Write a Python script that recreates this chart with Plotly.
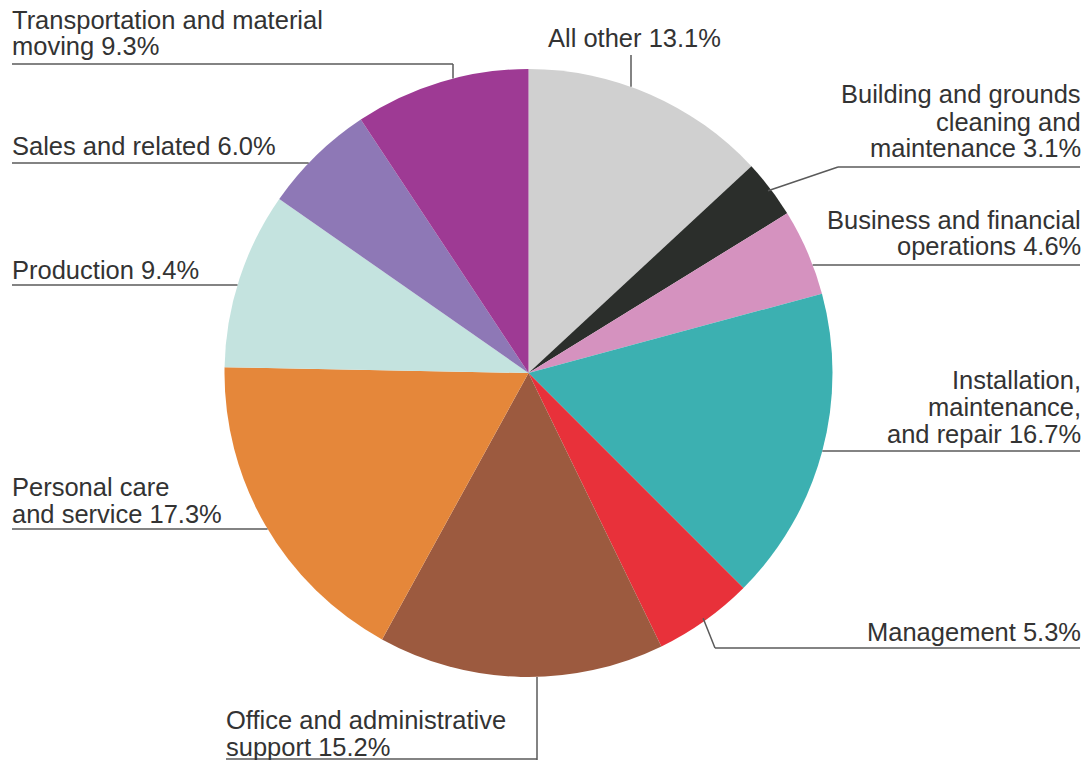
import math
import plotly.graph_objects as go

# ---- data ----
categories = [
    "All other",
    "Building and grounds cleaning and maintenance",
    "Business and financial operations",
    "Installation, maintenance, and repair",
    "Management",
    "Office and administrative support",
    "Personal care and service",
    "Production",
    "Sales and related",
    "Transportation and material moving",
]
shares = [13.1, 3.1, 4.6, 16.7, 5.3, 15.2, 17.3, 9.4, 6.0, 9.3]
label_lines = [
    ["All other"],
    ["Building and grounds", "cleaning and", "maintenance"],
    ["Business and financial", "operations"],
    ["Installation,", "maintenance,", "and repair"],
    ["Management"],
    ["Office and administrative", "support"],
    ["Personal care", "and service"],
    ["Production"],
    ["Sales and related"],
    ["Transportation and material", "moving"],
]
colors = ["#d0d0d0", "#2b2e2b", "#d592bf", "#3cb0b1", "#e8313a",
          "#9c5a3f", "#e5873a", "#c4e3df", "#8e78b6", "#9e3a94"]

# ---- layout geometry (pixels) ----
W, H = 1088, 760
CX, CY, R = 528.5, 373.0, 304.0
FS = 25.5
LINE_GAP = 27
TEXT_COLOR = "#333333"
LINE_COLOR = "#5a5a5a"

def px(x):
    return x / W

def py(y):
    return 1 - y / H

fig = go.Figure(go.Pie(
    labels=categories,
    values=shares,
    sort=False,
    direction="clockwise",
    rotation=0,
    marker=dict(colors=colors, line=dict(width=0)),
    textinfo="none",
    hoverinfo="label+percent",
    showlegend=False,
    domain=dict(x=[px(CX - R), px(CX + R)], y=[py(CY + R), py(CY - R)]),
))

# slice mid angles (clockwise from 12 o'clock), derived from data
total = sum(shares)
mid_angle = []
acc = 0.0
for v in shares:
    mid_angle.append((acc + v / 2) / total * 360.0)
    acc += v

def circle_x_at_y(y, side):
    dy = y - CY
    return CX + side * math.sqrt(max(R * R - dy * dy, 0))

def circle_y_at_x(x, side):
    dx = x - CX
    return CY + side * math.sqrt(max(R * R - dx * dx, 0))

def point_at_angle(a, rr=R):
    t = math.radians(a)
    return CX + rr * math.sin(t), CY - rr * math.cos(t)

# label placement: (x, last baseline, xanchor, leader spec)
placement = [
    (634, 47, "center", ("vert", 631, 55, -1)),
    (1081, 157, "right", ("diag", 167, 838)),
    (1081, 255, "right", ("hline", 265, 1)),
    (1081, 442, "right", ("hline", 451, 1)),
    (1081, 640, "right", ("diag", 648, 715)),
    (226, 755, "left", ("office", 537, 759)),
    (12, 522, "left", ("hline", 529, -1)),
    (12, 278, "left", ("hline", 285, -1)),
    (12, 155, "left", ("hline", 163, -1)),
    (12, 55, "left", ("elbow", 64, 453)),
]

shapes = []

def seg(x0, y0, x1, y1):
    shapes.append(dict(type="line", xref="paper", yref="paper",
                       x0=px(x0), y0=py(y0), x1=px(x1), y1=py(y1),
                       line=dict(color=LINE_COLOR, width=1.5)))

annotations = []
for i, (lines, v) in enumerate(zip(label_lines, shares)):
    x, base, anchor, leader = placement[i]
    txt = list(lines)
    txt[-1] = f"{txt[-1]} {v:.1f}%"
    n = len(txt)
    for k, t in enumerate(txt):
        b = base - (n - 1 - k) * LINE_GAP
        annotations.append(dict(
            text=t, x=px(x), y=py(b + 5.5), xref="paper", yref="paper",
            xanchor=anchor, yanchor="bottom", showarrow=False,
            borderpad=0, borderwidth=0,
            font=dict(family="Liberation Sans, Arial, sans-serif", size=FS, color=TEXT_COLOR),
        ))
    kind = leader[0]
    if kind == "hline":
        _, ly, side = leader
        xe = circle_x_at_y(ly, side)
        if side < 0:
            seg(12, ly, xe, ly)
        else:
            seg(xe, ly, 1080, ly)
    elif kind == "vert":
        _, lx, ytop, side = leader
        seg(lx, ytop, lx, circle_y_at_x(lx, side))
    elif kind == "diag":
        _, ly, xk = leader
        ex, ey = point_at_angle(mid_angle[i], R - 3)
        seg(xk, ly, 1080, ly)
        seg(ex, ey, xk, ly)
    elif kind == "elbow":
        _, ly, xk = leader
        seg(12, ly, xk, ly)
        seg(xk, ly, xk, circle_y_at_x(xk, -1))
    elif kind == "office":
        _, lx, ly = leader
        seg(lx, circle_y_at_x(lx, 1), lx, H)
        seg(x, ly, lx, ly)

fig.update_layout(
    width=W, height=H,
    margin=dict(l=0, r=0, t=0, b=0),
    paper_bgcolor="white",
    plot_bgcolor="white",
    shapes=shapes,
    annotations=annotations,
)

fig.write_html(
    "out.html",
    config={"displayModeBar": False},
    post_script="document.body.style.margin='0px';document.body.style.overflow='hidden';",
)
